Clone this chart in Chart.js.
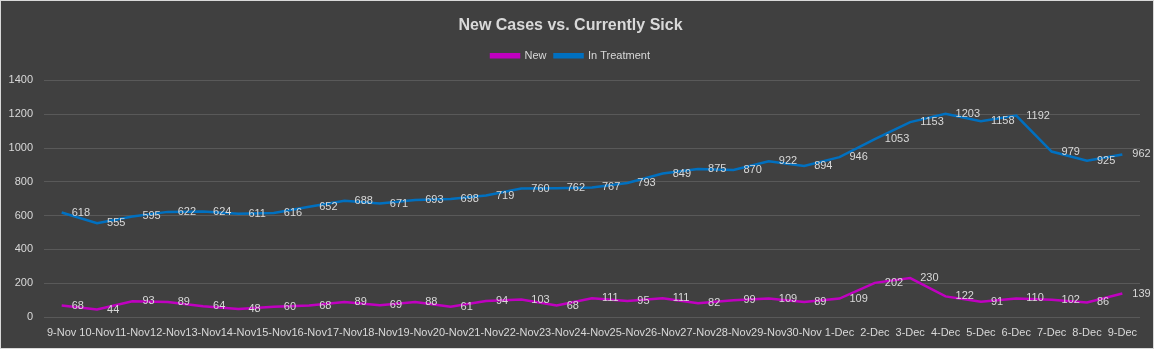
<!DOCTYPE html>
<html>
<head>
<meta charset="utf-8">
<script src="https://cdn.jsdelivr.net/npm/chart.js@4/dist/chart.umd.min.js"></script>
<style>
  html, body { margin: 0; padding: 0; background: #404040; }
  #wrap { width: 1152px; height: 347px; border: 1px solid #d9d9d9; position: relative; }
</style>
</head>
<body>
<div id="wrap"><canvas id="chart_newVsSick"></canvas></div>
<script>
var dayLabels = [
  '9-Nov', '10-Nov', '11-Nov', '12-Nov', '13-Nov', '14-Nov', '15-Nov', '16-Nov',
  '17-Nov', '18-Nov', '19-Nov', '20-Nov', '21-Nov', '22-Nov', '23-Nov', '24-Nov',
  '25-Nov', '26-Nov', '27-Nov', '28-Nov', '29-Nov', '30-Nov', '1-Dec', '2-Dec',
  '3-Dec', '4-Dec', '5-Dec', '6-Dec', '7-Dec', '8-Dec', '9-Dec'
];
var newCases = [
  68, 44, 93, 89, 64, 48, 60, 68, 89, 69, 88, 61, 94, 103, 68, 111,
  95, 111, 82, 99, 109, 89, 109, 202, 230, 122, 91, 110, 102, 86, 139
];
var inTreatment = [
  618, 555, 595, 622, 624, 611, 616, 652, 688, 671, 693, 698, 719, 760, 762, 767,
  793, 849, 875, 870, 922, 894, 946, 1053, 1153, 1203, 1158, 1192, 979, 925, 962
];

var FONT = '"Liberation Sans", Arial, sans-serif';
var TXT = '#d9d9d9';

// value labels to the right of each point
var valueLabels = {
  id: 'valueLabels',
  afterDatasetsDraw: function(chart) {
    var ctx = chart.ctx;
    ctx.save();
    ctx.font = '11px ' + FONT;
    ctx.fillStyle = TXT;
    ctx.textAlign = 'left';
    ctx.textBaseline = 'middle';
    chart.data.datasets.forEach(function(ds, i) {
      var meta = chart.getDatasetMeta(i);
      meta.data.forEach(function(pt, j) {
        ctx.fillText(ds.data[j], pt.x + 10, pt.y);
      });
    });
    ctx.restore();
  }
};

var chart_newVsSick = new Chart(document.getElementById('chart_newVsSick'), {
    type: 'line',
    data: {
        labels: dayLabels,
        datasets: [
            {
                label: 'New',
                data: newCases,
                borderColor: '#c000c0',
                backgroundColor: '#c000c0',
                borderWidth: 2.5,
                pointRadius: 0
            },
            {
                label: 'In Treatment',
                data: inTreatment,
                borderColor: '#0070c0',
                backgroundColor: '#0070c0',
                borderWidth: 2.5,
                pointRadius: 0
            }
        ]
    },
    options: {
        animation: false,
        responsive: true,
        maintainAspectRatio: false,
        layout: { padding: { left: 0, right: 13, top: 15, bottom: 0 } },
        plugins: {
            title: {
                display: true,
                text: 'New Cases vs. Currently Sick',
                color: TXT,
                font: { family: FONT, size: 16, weight: 'bold' },
                padding: { top: 0, bottom: 7 }
            },
            // empty spacer under the legend
            subtitle: {
                display: true,
                text: '',
                font: { size: 1 },
                padding: { top: 0, bottom: 8 }
            },
            legend: {
                weight: 1600,
                labels: {
                    color: TXT,
                    font: { family: FONT, size: 11 },
                    boxWidth: 28,
                    boxHeight: 3,
                    padding: 8
                }
            },
            tooltip: { enabled: false }
        },
        scales: {
            x: {
                offset: true,
                grid: { display: false },
                border: { display: false },
                ticks: {
                    color: TXT,
                    font: { family: FONT, size: 11 },
                    autoSkip: false,
                    maxRotation: 0,
                    minRotation: 0,
                    padding: 1
                },
                afterFit: function(scale) { scale.height = 31; }
            },
            y: {
                min: 0,
                max: 1400,
                grid: { color: '#595959', drawTicks: false },
                border: { display: false },
                ticks: {
                    stepSize: 200,
                    color: TXT,
                    font: { family: FONT, size: 11 },
                    padding: 11,
                    callback: function(value) { return String(value); }
                },
                afterFit: function(scale) { scale.width = 43; }
            }
        }
    },
    plugins: [valueLabels]
});
</script>
</body>
</html>
